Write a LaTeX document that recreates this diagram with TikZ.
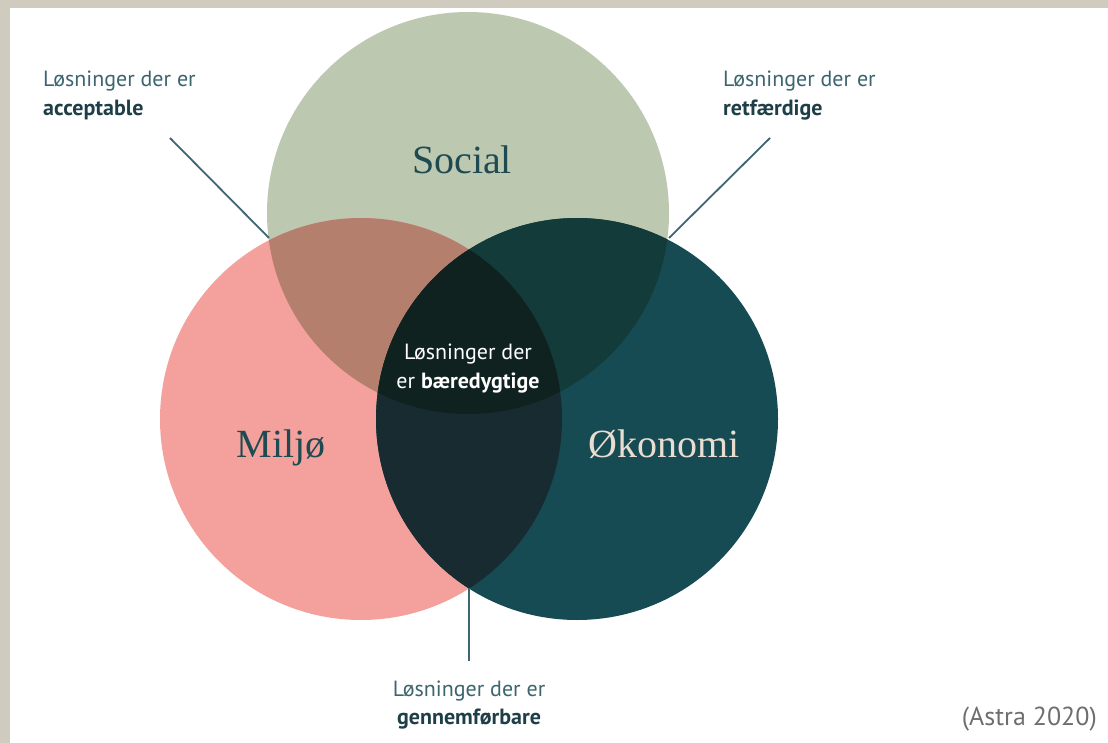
\documentclass[tikz,border=0pt]{standalone}
\usepackage{fontspec}
\setmainfont{Liberation Serif}
\newfontfamily\lblfont{PT Sans}
\definecolor{beige}{HTML}{CFCBBF}
\definecolor{socialc}{HTML}{BDC8B1}
\definecolor{miljoc}{HTML}{F4A19D}
\definecolor{okonc}{HTML}{164B54}
\definecolor{smc}{HTML}{B47F6D}
\definecolor{soc}{HTML}{133B39}
\definecolor{moc}{HTML}{172B31}
\definecolor{allc}{HTML}{0F2220}
\definecolor{linec}{HTML}{3E6670}
\definecolor{lbltxt}{HTML}{3C6570}
\definecolor{lblbold}{HTML}{1F3F48}
\definecolor{titletxt}{HTML}{1E4A52}
\definecolor{oktxt}{HTML}{E8DDD0}
\definecolor{srctxt}{HTML}{6E6E6E}
\begin{document}
\begin{tikzpicture}[x=1pt,y=-1pt,
  lbl/.style={font=\lblfont\fontsize{22}{26}\selectfont, text=lbltxt, inner sep=0pt},
  lblb/.style={font=\lblfont\bfseries\fontsize{22}{26}\selectfont, text=lblbold, inner sep=0pt},
  ttl/.style={font=\fontsize{40}{44}\selectfont, text=titletxt, inner sep=0pt},
  conn/.style={draw=linec, line width=1.8pt}]
\useasboundingbox (0,0) rectangle (1108,743);
\fill[beige] (0,0) rectangle (1108,743);
\fill[white] (10,8) rectangle (1108,743);
% centres
\coordinate (S) at (468,213);
\coordinate (M) at (361,419);
\coordinate (O) at (577,419);
\def\rr{201}
% circles
\fill[socialc] (S) circle (\rr);
\fill[miljoc] (M) circle (\rr);
\fill[okonc] (O) circle (\rr);
\begin{scope}\clip (S) circle (\rr); \fill[smc] (M) circle (\rr); \end{scope}
\begin{scope}\clip (S) circle (\rr); \fill[soc] (O) circle (\rr); \end{scope}
\begin{scope}\clip (M) circle (\rr); \fill[moc] (O) circle (\rr); \end{scope}
\begin{scope}\clip (M) circle (\rr); \clip (O) circle (\rr); \fill[allc] (S) circle (\rr); \end{scope}
% titles
\node[ttl, anchor=base] (social) at (462,174) {Social};
\node[ttl, anchor=base] (miljo) at (281,457) {Miljø};
\node[ttl, anchor=base, text=oktxt] (okonomi) at (664,457) {Økonomi};
% centre text
\node[lbl, text=white, anchor=base] (c1) at (468,359) {Løsninger der};
\node[lbl, text=white, anchor=base] (c2) at (468,388) {er \textbf{bæredygtige}};
% labels
\node[lbl, anchor=base west] (a1) at (43,87) {Løsninger der er};
\node[lblb, anchor=base west] (a2) at (43,116) {acceptable};
\node[lbl, anchor=base west] (r1) at (723,87) {Løsninger der er};
\node[lblb, anchor=base west] (r2) at (723,116) {retfærdige};
\node[lbl, anchor=base] (g1) at (469,696) {Løsninger der er};
\node[lblb, anchor=base] (g2) at (469,724) {gennemførbare};
\node[lbl, anchor=base east, text=srctxt, font=\lblfont\fontsize{26}{30}\selectfont] (src) at (1097,725) {(Astra 2020)};
% connectors
\coordinate (aS) at (170,138);
\coordinate (aE) at (269,238);
\coordinate (rS) at (770,138);
\coordinate (rE) at (669,238);
\coordinate (gS) at (469,588);
\coordinate (gE) at (469,661);
\draw[conn] (aS) -- (aE);
\draw[conn] (rS) -- (rE);
\draw[conn] (gS) -- (gE);
\end{tikzpicture}
\end{document}
